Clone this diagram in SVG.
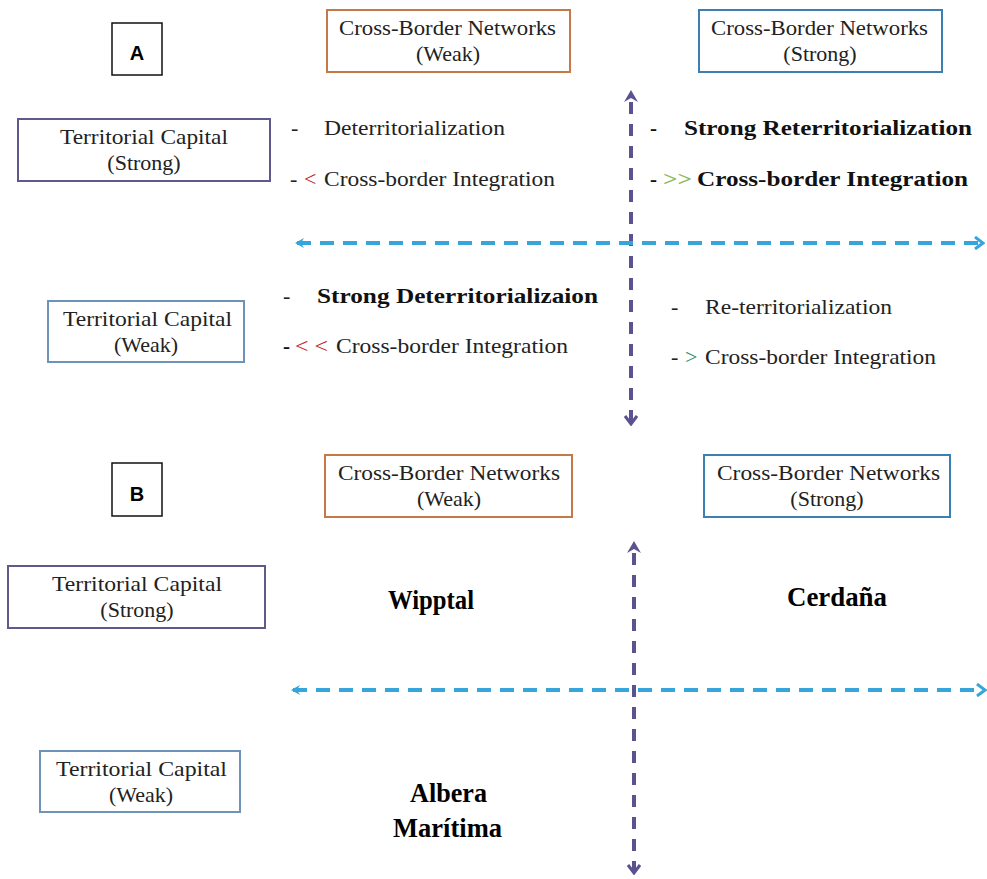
<svg xmlns="http://www.w3.org/2000/svg" width="987" height="879" viewBox="0 0 987 879">
<style>
.box{fill:#fff;stroke-width:2}
.orange{stroke:#c47a48}
.blue{stroke:#3b7fb3}
.purple{stroke:#5e5a8c}
.grey{stroke:#6f93b6}
.blk{stroke:#111;stroke-width:1.5}
.t{font-family:"Liberation Serif","Times New Roman",serif;font-size:22px;fill:#222}
.tb{font-family:"Liberation Serif","Times New Roman",serif;font-size:21px;font-weight:bold;fill:#111}
.big{font-family:"Liberation Serif","Times New Roman",serif;font-size:27px;font-weight:bold;fill:#000}
.lab{font-family:"Liberation Sans",Arial,sans-serif;font-size:20px;font-weight:bold;fill:#000}
.hax{stroke:#35a5dc;stroke-width:4;stroke-dasharray:14 9;fill:none}
.vax{stroke:#5a5390;stroke-width:4;stroke-dasharray:12 10;fill:none}
.red{fill:#c0262d}
.lg{fill:#8dbb5c}
.dg{fill:#2e8b5a}
</style>
<defs>
<marker id="hl" markerWidth="10" markerHeight="10" refX="2" refY="5" orient="auto" markerUnits="userSpaceOnUse"><path d="M0,5 L9,0 L6,5 L9,10 Z" fill="#35a5dc"/></marker>
<marker id="hr" markerWidth="12" markerHeight="14" refX="10" refY="7" orient="auto" markerUnits="userSpaceOnUse"><path d="M2,1 L10,7 L2,13" fill="none" stroke="#35a5dc" stroke-width="3"/></marker>
<marker id="vd" markerWidth="14" markerHeight="14" refX="7" refY="12" orient="0" markerUnits="userSpaceOnUse"><path d="M1,4 L7,12 L13,4" fill="none" stroke="#5a5390" stroke-width="3"/></marker>
</defs>

<g id="connectors">
<line class="vax" x1="631" y1="102" x2="631" y2="424" marker-end="url(#vd)"/>
<path d="M624,102 L631,90 L638,102 L631,98 Z" fill="#5a5390"/>
<line class="hax" x1="297" y1="243" x2="983" y2="243" marker-start="url(#hl)" marker-end="url(#hr)"/>
<line class="vax" x1="634" y1="553" x2="634" y2="873" marker-end="url(#vd)"/>
<path d="M627,553 L634,541 L641,553 L634,549 Z" fill="#5a5390"/>
<line class="hax" x1="293" y1="690" x2="985" y2="690" marker-start="url(#hl)" marker-end="url(#hr)"/>
</g>

<g id="labelA"><rect class="box blk" x="112" y="23" width="50" height="52"/><text class="lab" x="137" y="60" text-anchor="middle">A</text></g>
<g id="cbnWeakA"><rect class="box orange" x="327" y="10" width="243" height="62"/>
<text class="t" x="339" y="35" textLength="217" lengthAdjust="spacingAndGlyphs">Cross-Border Networks</text>
<text class="t" x="448" y="61" text-anchor="middle">(Weak)</text></g>
<g id="cbnStrongA"><rect class="box blue" x="699" y="10" width="243" height="62"/>
<text class="t" x="711" y="35" textLength="217" lengthAdjust="spacingAndGlyphs">Cross-Border Networks</text>
<text class="t" x="820" y="61" text-anchor="middle">(Strong)</text></g>
<g id="tcStrongA"><rect class="box purple" x="18" y="119" width="252" height="62"/>
<text class="t" x="60" y="144" textLength="168" lengthAdjust="spacingAndGlyphs">Territorial Capital</text>
<text class="t" x="144" y="170" text-anchor="middle">(Strong)</text></g>
<g id="tcWeakA"><rect class="box grey" x="48" y="301" width="196" height="61"/>
<text class="t" x="63" y="326" textLength="169" lengthAdjust="spacingAndGlyphs">Territorial Capital</text>
<text class="t" x="146" y="352" text-anchor="middle">(Weak)</text></g>

<g id="q1A">
<text class="t" x="291" y="135">-</text>
<text class="t" x="324" y="135" textLength="181" lengthAdjust="spacingAndGlyphs">Deterritorialization</text>
<text class="t" x="290" y="186">-</text>
<text class="t red" x="304" y="186">&lt;</text>
<text class="t" x="324" y="186" textLength="231" lengthAdjust="spacingAndGlyphs">Cross-border Integration</text>
</g>
<g id="q2A">
<text class="tb" x="650" y="135">-</text>
<text class="tb" x="684" y="135" textLength="288" lengthAdjust="spacingAndGlyphs">Strong Reterritorialization</text>
<text class="tb" x="650" y="186">-</text>
<text class="tb lg" x="663" y="186" textLength="29" lengthAdjust="spacingAndGlyphs">&gt;&gt;</text>
<text class="tb" x="697" y="186" textLength="271" lengthAdjust="spacingAndGlyphs">Cross-border Integration</text>
</g>
<g id="q3A">
<text class="t" x="283" y="303">-</text>
<text class="tb" x="317" y="303" textLength="281" lengthAdjust="spacingAndGlyphs">Strong Deterritorializaion</text>
<text class="tb" x="283" y="353">-</text>
<text class="t red" x="295" y="353" textLength="33" lengthAdjust="spacingAndGlyphs">&lt; &lt;</text>
<text class="t" x="336" y="353" textLength="232" lengthAdjust="spacingAndGlyphs">Cross-border Integration</text>
</g>
<g id="q4A">
<text class="t" x="671" y="314">-</text>
<text class="t" x="705" y="314" textLength="187" lengthAdjust="spacingAndGlyphs">Re-territorialization</text>
<text class="t" x="671" y="364">-</text>
<text class="t dg" x="685" y="364">&gt;</text>
<text class="t" x="705" y="364" textLength="231" lengthAdjust="spacingAndGlyphs">Cross-border Integration</text>
</g>

<g id="labelB"><rect class="box blk" x="112" y="463" width="50" height="53"/><text class="lab" x="137" y="501" text-anchor="middle">B</text></g>
<g id="cbnWeakB"><rect class="box orange" x="325" y="455" width="247" height="62"/>
<text class="t" x="338" y="480" textLength="222" lengthAdjust="spacingAndGlyphs">Cross-Border Networks</text>
<text class="t" x="449" y="506" text-anchor="middle">(Weak)</text></g>
<g id="cbnStrongB"><rect class="box blue" x="704" y="455" width="246" height="62"/>
<text class="t" x="717" y="480" textLength="223" lengthAdjust="spacingAndGlyphs">Cross-Border Networks</text>
<text class="t" x="827" y="506" text-anchor="middle">(Strong)</text></g>
<g id="tcStrongB"><rect class="box purple" x="8" y="566" width="257" height="62"/>
<text class="t" x="52" y="591" textLength="170" lengthAdjust="spacingAndGlyphs">Territorial Capital</text>
<text class="t" x="137" y="617" text-anchor="middle">(Strong)</text></g>
<g id="tcWeakB"><rect class="box grey" x="40" y="751" width="200" height="61"/>
<text class="t" x="56" y="776" textLength="171" lengthAdjust="spacingAndGlyphs">Territorial Capital</text>
<text class="t" x="141" y="802" text-anchor="middle">(Weak)</text></g>

<g id="wipptal"><text class="big" x="388" y="609" textLength="86" lengthAdjust="spacingAndGlyphs">Wipptal</text></g>
<g id="cerdana"><text class="big" x="787" y="606" textLength="100" lengthAdjust="spacingAndGlyphs">Cerdaña</text></g>
<g id="albera"><text class="big" x="410" y="802" textLength="77" lengthAdjust="spacingAndGlyphs">Albera</text>
<text class="big" x="393" y="837" textLength="109" lengthAdjust="spacingAndGlyphs">Marítima</text></g>
</svg>
